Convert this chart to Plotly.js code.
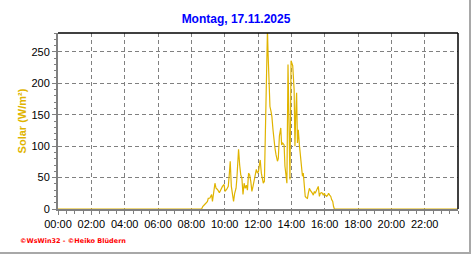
<!DOCTYPE html>
<html>
<head>
<meta charset="utf-8">
<script src="https://cdn.plot.ly/plotly-3.0.1.min.js"></script>
<style>
html,body{margin:0;padding:0;background:#fff;}
#wrap{position:relative;width:472px;height:255px;}
#chart{width:472px;height:255px;}
#frame{position:absolute;left:0;top:0;width:469px;height:252px;border-right:2px solid #a8a8a8;border-bottom:2px solid #a8a8a8;pointer-events:none;}
</style>
</head>
<body>
<div id="wrap"><div id="chart"></div><div id="frame"></div></div>
<script>
var day = "2025-11-17";
var chartTitle = "Montag, 17.11.2025";
var yTitle = "Solar (W/m²)";
var footer = "©WsWin32 - ©Heiko Blüdern";
var tickLabels = ["00:00","02:00","04:00","06:00","08:00","10:00","12:00","14:00","16:00","18:00","20:00","22:00"];

var times = ["00:00","08:37","08:41","08:46","08:49","08:53","08:58","09:01","09:07","09:13","09:16",
"09:22","09:25","09:29","09:34","09:41","09:46","09:52","09:58","10:01","10:07","10:13","10:17","10:20",
"10:24","10:29","10:32","10:36","10:41","10:44","10:48","10:50","10:54","10:58","11:02","11:06","11:10",
"11:14","11:18","11:22","11:26","11:30","11:34","11:38","11:42","11:46","11:50","11:54","11:58","12:02",
"12:05","12:08","12:12","12:16","12:19","12:23","12:26","12:30","12:34","12:36","12:40","12:43","12:47",
"12:50","12:54","12:58","13:01","13:05","13:10","13:13","13:17","13:22","13:25","13:29","13:34","13:37",
"13:41","13:44","13:48","13:52","13:55","13:59","14:05","14:10","14:13","14:16","14:19","14:22","14:25",
"14:29","14:32","14:36","14:40","14:43","14:47","14:50","14:54","14:58","15:01","15:05","15:08","15:12",
"15:16","15:19","15:23","15:26","15:30","15:34","15:37","15:41","15:44","15:48","15:52","15:55","15:59",
"16:02","16:07","16:11","16:14","16:18","16:22","16:25","16:29","16:32","16:35","23:59"];

var solar = [0,0,4,7,7,9.5,12,17,17.5,23,12,
33,41,33,31,26,31,36,39,28,31,36,57,76,
36,17,12,25,33,49,81,95,70,54,49,23,41,
33,38,30,57,54,44,28,36,46,57,63,57,60,
70,78,57,44,41,44,97,211,285,251,206,163,155,
147,126,102,97,86,76,80,116,129,102,105,102,68,
52,41,230,131,47,236,228,190,100,153,185,105,126,
102,84,65,52,57,36,20,18,17,25,33,30,28,
25,22,28,25,30,33,36,20,25,26,25,22,25,
22,20,22,25,22,20,15,12,4,0,0];

var xs = times.map(function(t){ return day + " " + t; });
var tickVals = tickLabels.map(function(t){ return day + " " + t; });

var gridCol = "#808080";
var data = [{
  x: xs, y: solar, type: "scatter", mode: "lines",
  line: {color: "#e0b400", width: 1.2},
  hoverinfo: "skip"
}];

var layout = {
  width: 472, height: 255,
  margin: {l: 58, r: 14, t: 33, b: 46},
  paper_bgcolor: "#ffffff", plot_bgcolor: "#ffffff",
  showlegend: false,
  font: {family: "Liberation Sans, Arial, sans-serif", size: 11, color: "#000"},
  title: {text: "<b>" + chartTitle + "</b>", font: {size: 12, color: "#0000ff", family: "Liberation Sans, Arial, sans-serif"},
          x: 0.5, xref: "container", xanchor: "center", y: 0.925, yref: "container", yanchor: "middle"},
  xaxis: {
    type: "date",
    range: [day + " 00:00", day + " 23:59:59"],
    tickmode: "array", tickvals: tickVals, ticktext: tickLabels,
    showgrid: true, gridcolor: gridCol, griddash: "4px,3px", gridwidth: 1,
    showline: true, linecolor: gridCol, linewidth: 2, layer: "below traces",
    ticks: "outside", ticklen: 4, tickcolor: gridCol, tickwidth: 1,
    minor: {dtick: 1800000, tick0: day + " 00:00", ticks: "outside", ticklen: 3, tickcolor: gridCol, showgrid: false},
    zeroline: false, fixedrange: true,
    tickfont: {size: 11, color: "#000"}
  },
  yaxis: {
    range: [0, 280],
    dtick: 50, tick0: 0,
    showgrid: true, gridcolor: gridCol, griddash: "4px,3px", gridwidth: 1,
    showline: true, linecolor: gridCol, linewidth: 2, layer: "below traces",
    ticks: "outside", ticklen: 4, tickcolor: gridCol, tickwidth: 1,
    minor: {dtick: 10, ticks: "outside", ticklen: 2, tickcolor: gridCol, showgrid: false},
    zeroline: false, fixedrange: true,
    tickfont: {size: 11, color: "#000"},
    title: {text: "<b>" + yTitle + "</b>", font: {size: 11, color: "#e0b400"}, standoff: 3}
  },
  shapes: [
    {type: "line", xref: "paper", yref: "paper", x0: 0, x1: 1, y0: 1, y1: 1, line: {color: "#000", width: 1.5}},
    {type: "line", xref: "paper", yref: "paper", x0: 1, x1: 1, y0: 0, y1: 1, line: {color: "#000", width: 1.5}}
  ],
  annotations: [{
    text: "<b>" + footer + "</b>", xref: "paper", yref: "paper",
    x: -0.1, y: -0.18, xanchor: "left", yanchor: "middle", showarrow: false,
    font: {size: 6.5, color: "#ff0000", family: "DejaVu Sans, sans-serif"}
  }]
};

Plotly.newPlot("chart", data, layout, {displayModeBar: false, staticPlot: true});
</script>
</body>
</html>
